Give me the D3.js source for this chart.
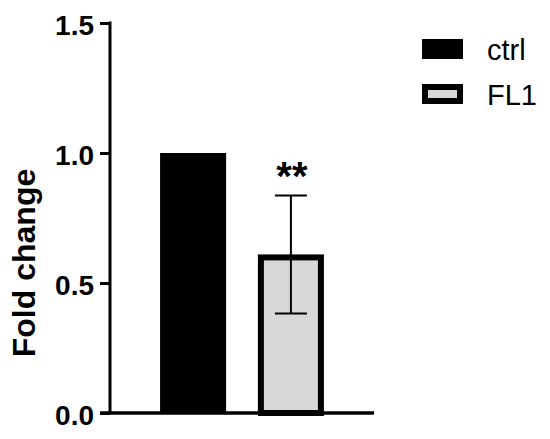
<!DOCTYPE html>
<html>
<head>
<meta charset="utf-8">
<script src="https://cdn.jsdelivr.net/npm/d3@7"></script>
<style>
html,body{margin:0;padding:0;background:#fff;}
svg{display:block;font-family:"Liberation Sans",Arial,sans-serif;}
</style>
</head>
<body>
<svg id="chart" width="550" height="439"></svg>
<script>
const categories = ["ctrl", "FL1"];
const means = [1.0, 0.61];
const errors = [0, 0.227];
const fills = ["#000000", "#d8d8d8"];
const significance = ["", "**"];
const yTicks = [0.0, 0.5, 1.0, 1.5];
const yLabel = "Fold change";

const svg = d3.select("#chart");
const y = d3.scaleLinear().domain([0, 1.5]).range([413, 23]);
const x = d3.scaleBand().domain(categories).range([110, 374])
  .paddingInner(0.325).paddingOuter(0.512);

// bars
const bw = 6;
categories.forEach((c, i) => {
  if (i === 0) {
    svg.append("rect").attr("x", x(c)).attr("y", y(means[i]))
      .attr("width", x.bandwidth()).attr("height", y(0) - y(means[i]))
      .attr("fill", fills[i]);
  } else {
    svg.append("rect").attr("x", x(c) + bw/2).attr("y", y(means[i]) + bw/2)
      .attr("width", x.bandwidth() - bw).attr("height", y(0) - y(means[i]) - bw/2)
      .attr("fill", fills[i]).attr("stroke", "#000").attr("stroke-width", bw);
  }
});

// error bars
categories.forEach((c, i) => {
  if (!errors[i]) return;
  const cx = x(c) + x.bandwidth()/2;
  const g = svg.append("g").attr("stroke", "#000").attr("stroke-width", 2);
  g.append("line").attr("x1", cx).attr("x2", cx).attr("y1", y(means[i] + errors[i])).attr("y2", y(means[i] - errors[i]));
  g.append("line").attr("x1", cx - 16).attr("x2", cx + 16).attr("y1", y(means[i] + errors[i])).attr("y2", y(means[i] + errors[i]));
  g.append("line").attr("x1", cx - 16).attr("x2", cx + 16).attr("y1", y(means[i] - errors[i])).attr("y2", y(means[i] - errors[i]));
  svg.append("text").attr("x", cx + 1).attr("y", y(means[i] + errors[i]) - 5)
    .attr("text-anchor", "middle").attr("font-weight", "bold").attr("font-size", 40)
    .text(significance[i]);
});

// y axis
const yAxis = d3.axisLeft(y).tickValues(yTicks).tickFormat(d3.format(".1f")).tickSize(10).tickPadding(6);
const ga = svg.append("g").attr("transform", "translate(110,0)").call(yAxis);
ga.select(".domain").attr("stroke", "#000").attr("stroke-width", 3).attr("d", `M0,${y(1.5)-1.5}V${y(0)}`);
ga.selectAll(".tick line").attr("stroke", "#000").attr("stroke-width", 3);
ga.selectAll(".tick text").attr("font-size", 28).attr("font-weight", "bold").attr("fill", "#000")
  .attr("font-family", "'Liberation Sans',Arial,sans-serif").attr("dy", "0.4em");

// x axis line
const xAxis = d3.axisBottom(x).tickSize(0).tickFormat("");
const gx = svg.append("g").attr("transform", `translate(0,${y(0)})`).call(xAxis);
gx.select(".domain").attr("stroke", "#000").attr("stroke-width", 3.5).attr("d", "M100,0H374");

// y label
svg.append("text").attr("transform", `translate(35,263) rotate(-90)`)
  .attr("text-anchor", "middle").attr("font-weight", "bold").attr("font-size", 32)
  .text(yLabel);

// legend
categories.forEach((c, i) => {
  const ly = 39 + i * 45;
  if (i === 0) {
    svg.append("rect").attr("x", 422).attr("y", ly).attr("width", 41).attr("height", 20).attr("fill", fills[i]);
  } else {
    svg.append("rect").attr("x", 425).attr("y", ly + 3).attr("width", 35).attr("height", 14)
      .attr("fill", fills[i]).attr("stroke", "#000").attr("stroke-width", bw);
  }
  svg.append("text").attr("x", 487).attr("y", ly + 21).attr("font-size", 29).text(c);
});
</script>
</body>
</html>
